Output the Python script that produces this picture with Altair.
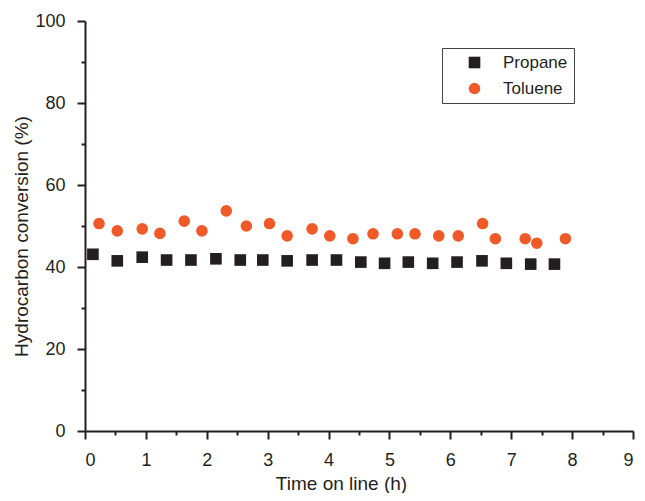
import altair as alt
import pandas as pd

# Propane conversion (squares)
propane_time = [0.13, 0.53, 0.94, 1.34, 1.74, 2.15, 2.55, 2.92, 3.32, 3.73,
                4.13, 4.53, 4.92, 5.31, 5.71, 6.11, 6.52, 6.92, 7.32, 7.71]
propane_conv = [43.1, 41.5, 42.4, 41.7, 41.7, 42.0, 41.7, 41.7, 41.5, 41.7,
                41.7, 41.2, 40.9, 41.2, 40.9, 41.2, 41.5, 40.9, 40.7, 40.7]

# Toluene conversion (circles)
toluene_time = [0.23, 0.53, 0.94, 1.23, 1.63, 1.92, 2.32, 2.65, 3.03, 3.32,
                3.73, 4.02, 4.40, 4.73, 5.13, 5.42, 5.81, 6.13, 6.53, 6.74,
                7.23, 7.42, 7.89]
toluene_conv = [50.6, 48.8, 49.3, 48.2, 51.2, 48.8, 53.7, 50.0, 50.6, 47.6,
                49.3, 47.6, 46.9, 48.1, 48.1, 48.1, 47.6, 47.6, 50.6, 46.9,
                46.9, 45.8, 46.9]

series = ["Propane", "Toluene"]
x_ticks = [i * 0.5 for i in range(19)]
y_ticks = [i * 10 for i in range(11)]

df = pd.concat([
    pd.DataFrame({"t": propane_time, "c": propane_conv, "s": series[0]}),
    pd.DataFrame({"t": toluene_time, "c": toluene_conv, "s": series[1]}),
])

INK = "#231f20"
FONT = "Liberation Sans"

legend = alt.Legend(title=None, orient="none", legendX=357, legendY=27,
                    padding=6, symbolOffset=18, labelOffset=20,
                    rowPadding=8, strokeColor="#444444",
                    labelFontSize=17, labelFont=FONT, labelColor=INK,
                    labelExpr="datum.label + '\u00a0\u00a0\u00a0'",
                    symbolSize=135)

chart = alt.Chart(df).mark_point(filled=True, opacity=1, size=135).encode(
    x=alt.X("t:Q", scale=alt.Scale(domain=[0, 9], nice=False, zero=False),
            axis=alt.Axis(title="Time on line (h)", values=x_ticks,
                          labelExpr="datum.value % 1 ? '' : format(datum.value, 'd')",
                          tickSize={"condition": {"test": "datum.value % 1 !== 0", "value": 4}, "value": 8},
                          labelOverlap=False, labelPadding=12,
                          titleX=256, titleY=58, titleAlign="center",
                          titleBaseline="alphabetic")),
    y=alt.Y("c:Q", scale=alt.Scale(domain=[0, 100], nice=False),
            axis=alt.Axis(title="Hydrocarbon conversion (%)", values=y_ticks,
                          labelExpr="datum.value % 20 ? '' : format(datum.value, 'd')",
                          tickSize={"condition": {"test": "datum.value % 20 !== 0", "value": 4}, "value": 8},
                          labelOverlap=False, labelPadding=12,
                          titleX=-58, titleY=215, titleAngle=270, titleAlign="center",
                          titleBaseline="alphabetic")),
    color=alt.Color("s:N", scale=alt.Scale(domain=series, range=[INK, "#f05a28"]),
                    legend=legend),
    shape=alt.Shape("s:N", scale=alt.Scale(domain=series, range=["square", "circle"]),
                    legend=legend),
).properties(
    width=548, height=410,
    autosize=alt.AutoSizeParams(type="none"),
    padding={"left": 77, "top": 13, "right": 4, "bottom": 62},
).configure_view(stroke=None).configure_axis(
    domainColor=INK, domainWidth=2, tickColor=INK, tickWidth=2,
    labelFont=FONT, labelFontSize=18, labelColor=INK,
    titleFont=FONT, titleFontSize=19, titleFontWeight="normal", titleColor=INK,
    grid=False,
)

chart.save("out.html", embed_options={"renderer": "svg", "actions": False})
